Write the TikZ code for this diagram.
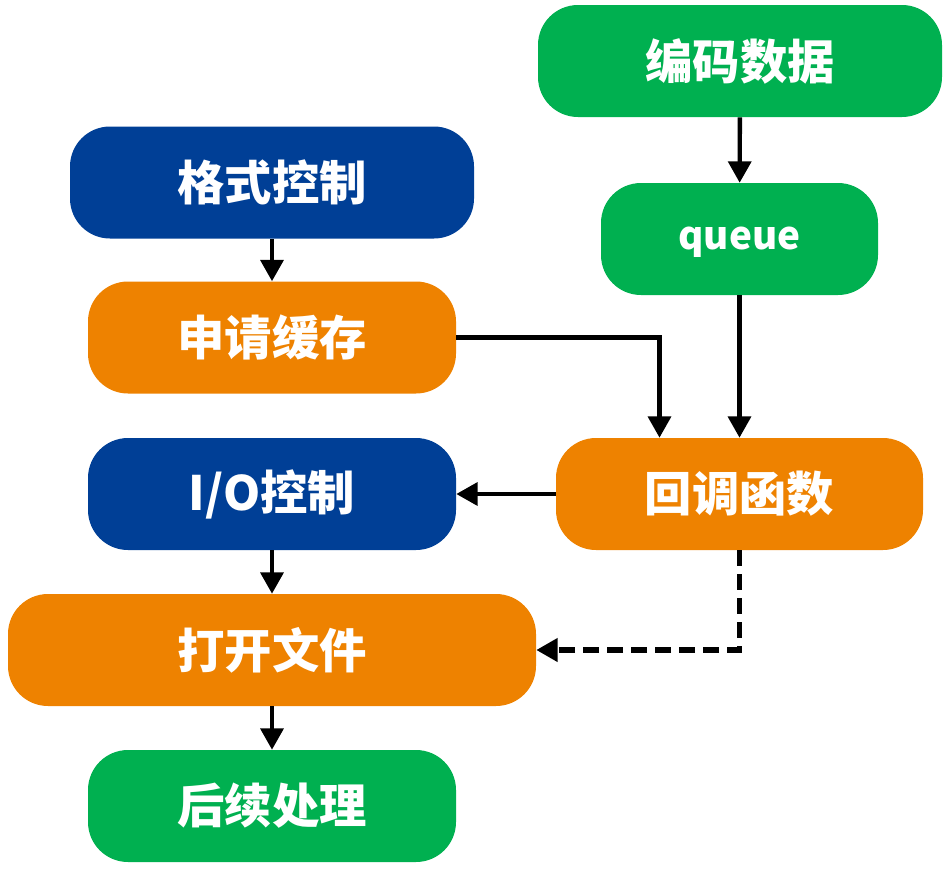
\documentclass[tikz,border=0pt]{standalone}
\usepackage{fontspec}
\setmainfont{Noto Sans CJK SC}
\usetikzlibrary{calc, arrows.meta}

\definecolor{boxgreen}{HTML}{00B050}
\definecolor{boxblue}{HTML}{003F96}
\definecolor{boxorange}{HTML}{EE8200}

\tikzset{
  box/.style={rounded corners=30pt, text=white, font=\fontsize{35.5}{38}\selectfont\bfseries,
    minimum height=84pt, inner sep=0pt},
  flow/.style={line width=3.3pt, -{Triangle[length=16pt, width=17pt]}}
}

\begin{document}
\begin{tikzpicture}[x=0.75pt, y=-0.75pt]
  \useasboundingbox (0, 0) rectangle (951, 875);

  \node[box, fill=boxgreen,  minimum width=303pt]   (enc)   at (740, 61)    {编码数据};
  \node[box, fill=boxblue,   minimum width=303pt]   (fmt)   at (272, 182.5) {格式控制};
  \node[box, fill=boxgreen,  minimum width=207.75pt, font=\fontsize{29}{32}\selectfont\bfseries,
    text height=16pt, text depth=0pt] (queue) at (739.5, 239) {queue};
  \node[box, fill=boxorange, minimum width=276pt]   (req)   at (272, 337.5) {申请缓存};
  \node[box, fill=boxorange, minimum width=275.25pt] (cb)   at (739.5, 494) {回调函数};
  \node[box, fill=boxblue,   minimum width=276pt]   (io)    at (272, 494)   {I/O控制};
  \node[box, fill=boxorange, minimum width=396pt]   (open)  at (272, 650)   {打开文件};
  \node[box, fill=boxgreen,  minimum width=276pt]   (post)  at (272, 806)   {后续处理};

  \coordinate (cbin) at ($(cb.north)+(-80, 0)$);

  \draw[flow] (enc) -- (queue);
  \draw[flow] (fmt) -- (req);
  \draw[flow] (req.east) -| (cbin);
  \draw[flow] (queue) -- (cb);
  \draw[flow] (cb) -- (io);
  \draw[flow] (io) -- (open);
  \draw[flow, line width=3.8pt, dash pattern=on 12pt off 6pt] (cb.south) |- (open.east);
  \draw[flow] (open) -- (post);
\end{tikzpicture}
\end{document}
